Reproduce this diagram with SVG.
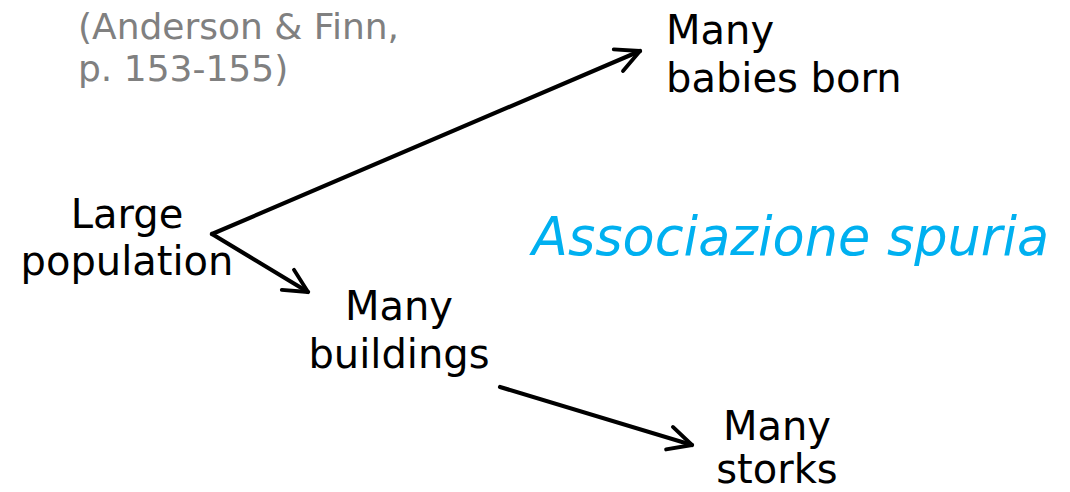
<svg xmlns="http://www.w3.org/2000/svg" width="1070" height="492" viewBox="0 0 1070 492">
<style>
.t{font-family:"DejaVu Sans",Verdana,sans-serif;font-size:40px;fill:#000;text-anchor:middle}
.ref{font-family:"DejaVu Sans",Verdana,sans-serif;font-size:36px;fill:#808080}
.em{font-family:"DejaVu Sans",Verdana,sans-serif;font-size:52.5px;font-style:italic;fill:#00B0F0}
.c{stroke:#000;stroke-width:4.2;fill:none;stroke-linecap:round;stroke-linejoin:round}
</style>
<defs>
<marker id="ah" viewBox="0 0 10 10" refX="9" refY="5" markerWidth="7" markerHeight="7" orient="auto" markerUnits="strokeWidth">
<path d="M1,1 L9,5 L1,9" fill="none" stroke="#000" stroke-width="1.3" stroke-linecap="round" stroke-linejoin="round"/>
</marker>
</defs>
<rect width="1070" height="492" fill="#fff"/>
<g id="ref"><text class="ref" x="78" y="39">(Anderson &amp; Finn,</text><text class="ref" x="78" y="81">p. 153-155)</text></g>
<g id="label"><text class="em" x="532" y="255">Associazione spuria</text></g>
<g id="population"><text class="t" x="127" y="228">Large</text><text class="t" x="127" y="275">population</text></g>
<g id="babies"><text class="t" x="666" y="44" style="text-anchor:start">Many</text><text class="t" x="666" y="92" style="text-anchor:start">babies born</text></g>
<g id="buildings"><text class="t" x="399" y="320">Many</text><text class="t" x="399" y="368">buildings</text></g>
<g id="storks"><text class="t"><tspan x="777" y="440">Many</tspan><tspan x="777" y="483">storks</tspan></text></g>
<g id="connectors">
<line class="c" x1="212" y1="234" x2="640" y2="51" marker-end="url(#ah)"/>
<line class="c" x1="212" y1="234" x2="308" y2="292" marker-end="url(#ah)"/>
<line class="c" x1="500" y1="387" x2="692" y2="445" marker-end="url(#ah)"/>
</g>
</svg>
